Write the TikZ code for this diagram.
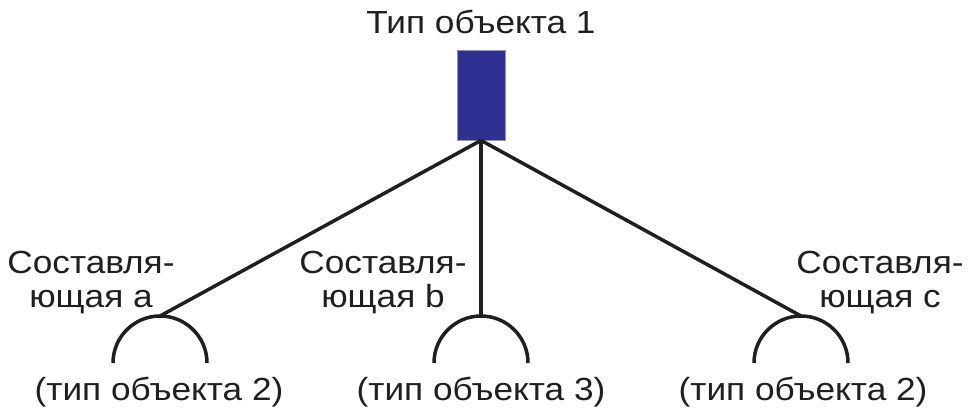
\documentclass[tikz,border=0pt]{standalone}
\usepackage{fontspec}
\setmainfont{Liberation Sans}[FakeStretch=1.1]
\begin{document}
\begin{tikzpicture}[x=1pt,y=-1pt,
  lbl/.style={font=\fontsize{32}{34}\selectfont, text=black!88, inner sep=0pt, align=center, anchor=base},
  link/.style={line width=3.5pt, draw=black!88},
  cup/.style={line width=3.5pt, draw=black!88},
  box/.style={fill={rgb,255:red,46;green,49;blue,146}, draw=black!40, line width=0.8pt, minimum width=48pt, minimum height=90pt, inner sep=0pt}]
\useasboundingbox (0,0) rectangle (968,416);
\node[lbl] (title) at (481,33) {Тип объекта 1};
\node[box] (obj) at (481,95) {};
\coordinate (ta) at (160,316);
\coordinate (tb) at (481,316);
\coordinate (tc) at (801,316);
\draw[cup] (ta) ++(-47,47) arc[start angle=180, end angle=360, radius=47];
\draw[cup] (tb) ++(-47,47) arc[start angle=180, end angle=360, radius=47];
\draw[cup] (tc) ++(-47,47) arc[start angle=180, end angle=360, radius=47];
\draw[link] (obj.south) -- (ta);
\draw[link] (obj.south) -- (tb);
\draw[link] (obj.south) -- (tc);
\node[lbl] (la) at (91,307) {Составля-\\ющая а};
\node[lbl] (lb) at (383,307) {Составля-\\ющая b};
\node[lbl] (lc) at (880,307) {Составля-\\ющая с};
\node[lbl] (ba) at (159,400) {(тип объекта 2)};
\node[lbl] (bb) at (481,400) {(тип объекта 3)};
\node[lbl] (bc) at (803,400) {(тип объекта 2)};
\end{tikzpicture}
\end{document}
